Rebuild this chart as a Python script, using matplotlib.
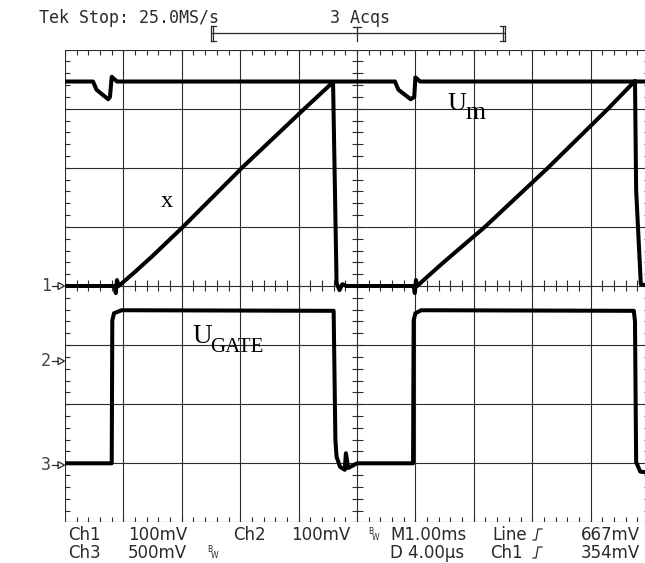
import numpy as np
import matplotlib
matplotlib.use("Agg")
import matplotlib.pyplot as plt
from matplotlib.collections import LineCollection
from matplotlib.transforms import blended_transform_factory
from matplotlib.patches import Polygon

# ---------------- data (time and level in screen divisions) ----------------
# U_m trace (top)
t_um = [-5.0, -4.52, -4.46, -4.26, -4.23, -4.20, -4.11, 0.65, 0.71, 0.92, 0.98, 1.00, 1.08, 5.0]
v_um = [3.46, 3.46, 3.32, 3.16, 3.20, 3.54, 3.46, 3.46, 3.32, 3.16, 3.20, 3.53, 3.46, 3.46]

# x ramp trace (channel 1 reference)
t_x = [-5.0, -4.15, -4.13, -4.11, -4.08, -3.80, -3.51, -2.98, -1.97, -0.90, -0.41,
       -0.35, -0.30, -0.25, -0.18, 0.97, 0.99, 1.01, 1.03, 1.22, 1.47, 2.19, 3.27,
       4.30, 4.76, 4.78, 4.86, 5.0]
v_x = [0.0, 0.0, -0.12, 0.10, 0.0, 0.24, 0.50, 1.0, 2.0, 3.0, 3.45,
       0.05, -0.07, 0.03, 0.0, 0.0, -0.12, 0.10, 0.0, 0.17, 0.39, 1.0, 2.0,
       3.0, 3.47, 1.62, 0.03, 0.0]

# U_GATE trace (bottom)
t_g = [-5.0, -4.20, -4.19, -4.16, -4.03, -0.40, -0.37, -0.35, -0.29, -0.21,
       -0.19, -0.15, 0.0, 0.96, 0.97, 1.00, 1.10, 4.74, 4.76, 4.78, 4.85, 5.0]
v_g = [-3.0, -3.0, -0.58, -0.46, -0.41, -0.42, -2.60, -2.89, -3.06, -3.11,
       -2.83, -3.08, -3.0, -3.0, -0.58, -0.46, -0.41, -0.42, -0.60, -2.98, -3.14, -3.16]

# channel ground markers
ch_labels = ["1", "2", "3"]
ch_levels = [0.0, -1.27, -3.03]

# ---------------- layout ----------------
W, H = 645, 563
X0, Y0 = 357.0, 286.0      # pixel of screen centre
DX, DY = 58.4, 59.1        # pixels per division

fig = plt.figure(figsize=(W / 100, H / 100), dpi=100)
fig.patch.set_facecolor("white")
ax = fig.add_axes([(X0 - 5 * DX) / W, (H - (Y0 + 4 * DY)) / H, 10 * DX / W, 8 * DY / H])
ax.set_xlim(-5, 5)
ax.set_ylim(-4, 4)
ax.axis("off")

gc = "#2b2b2b"
for i in range(-5, 6):
    ax.plot([i, i], [-4, 4], color=gc, lw=0.8, zorder=1)
for j in range(-4, 5):
    ax.plot([-5, 5], [j, j], color=gc, lw=0.8, zorder=1)

tx = np.arange(-5, 5.001, 0.2)
ty = np.arange(-4, 4.001, 0.2)
lx, ly = 5.5 / DX, 5.5 / DY
segs = []
for t in tx:
    segs.append([(t, 4), (t, 4 - ly)])
    segs.append([(t, -4), (t, -4 + ly)])
    segs.append([(t, -ly), (t, ly)])
for t in ty:
    segs.append([(-5, t), (-5 + lx, t)])
    segs.append([(5, t), (5 - lx, t)])
    segs.append([(-lx, t), (lx, t)])
ax.add_collection(LineCollection(segs, colors=gc, linewidths=0.8, zorder=1))

kw = dict(color="black", lw=2.9, solid_joinstyle="round", solid_capstyle="round", zorder=3)
ax.plot(t_um, v_um, **kw)
ax.plot(t_x, v_x, **kw)
ax.plot(t_g, v_g, **kw)

# ---------------- overlay in pixel coordinates ----------------
ov = fig.add_axes([0, 0, 1, 1])
ov.set_xlim(0, W)
ov.set_ylim(H, 0)
ov.axis("off")
ov.patch.set_alpha(0)

mono = "DejaVu Sans Mono"
sans = "DejaVu Sans"
tc = "#2a2a2a"
ov.text(39, 23, "Tek Stop: 25.0MS/s", family=mono, fontsize=12, color=tc, va="baseline", ha="left")
ov.text(330, 23, "3 Acqs", family=mono, fontsize=12, color=tc, va="baseline", ha="left")

# record-length bracket with trigger T
bk = dict(color=tc, lw=0.9)
ov.plot([212, 504], [33, 33], **bk)
ov.plot([211, 211], [26, 41], **bk)
ov.plot([213, 213], [26, 41], **bk)
ov.plot([211, 216], [26, 26], **bk)
ov.plot([211, 216], [41, 41], **bk)
ov.plot([503, 503], [26, 41], **bk)
ov.plot([505, 505], [26, 41], **bk)
ov.plot([500, 505], [26, 26], **bk)
ov.plot([500, 505], [41, 41], **bk)
ov.plot([353, 361], [27, 27], **bk)
ov.plot([357, 357], [27, 41], **bk)

# channel markers
bt = blended_transform_factory(ov.transData, ax.transData)
for lab, lev in zip(ch_labels, ch_levels):
    ov.text(51, lev, lab, transform=bt, family=mono, fontsize=12, color="#444444",
            ha="right", va="center")
    ov.plot([52, 58], [lev, lev], transform=bt, color=tc, lw=0.9)
    ov.add_patch(Polygon([(58, lev + 3.5 / DY), (64.5, lev), (58, lev - 3.5 / DY)],
                         closed=True, facecolor="white", edgecolor=tc, lw=0.9, transform=bt))

# serif annotations
serif = "Liberation Serif"
ov.text(161, 207, "x", family=serif, fontsize=17.5, va="baseline", ha="left", color="black")
ov.text(447, 110, "U", family=serif, fontsize=19, va="baseline", ha="left", color="black")
ov.text(466, 119, "m", family=serif, fontsize=18.5, va="baseline", ha="left", color="black")
ov.text(192, 343, "U", family=serif, fontsize=19.5, va="baseline", ha="left", color="black")
ov.text(210, 352, "GATE", family=serif, fontsize=15, va="baseline", ha="left", color="black")

# bottom readout
b1, b2 = 540, 558
fs = 12
row1 = [(68, "Ch1"), (128, "100mV"), (233, "Ch2"), (291, "100mV"), (390, "M1.00ms"),
        (492, "Line"), (581, "667mV")]
row2 = [(68, "Ch3"), (128, "500mV"), (390, "D 4.00µs"), (490, "Ch1"), (581, "354mV")]
for x, s in row1:
    ov.text(x, b1, s, family=sans, fontsize=fs, color=tc, va="baseline", ha="left")
for x, s in row2:
    ov.text(x, b2, s, family=sans, fontsize=fs, color=tc, va="baseline", ha="left")

# bandwidth-limit glyphs
for x, y in [(368, b1), (207, b2)]:
    ov.text(x, y - 6.5, "B", family=sans, fontsize=5.5, color=tc, va="baseline", ha="left")
    ov.text(x + 3.5, y, "W", family=sans, fontsize=5.5, color=tc, va="baseline", ha="left")

# rising-edge trigger symbols
for y in [b1, b2]:
    ov.plot([533, 536, 538, 542], [y, y, y - 11, y - 11], color=tc, lw=0.9)

fig.savefig("out.png", dpi=100, facecolor="white")
